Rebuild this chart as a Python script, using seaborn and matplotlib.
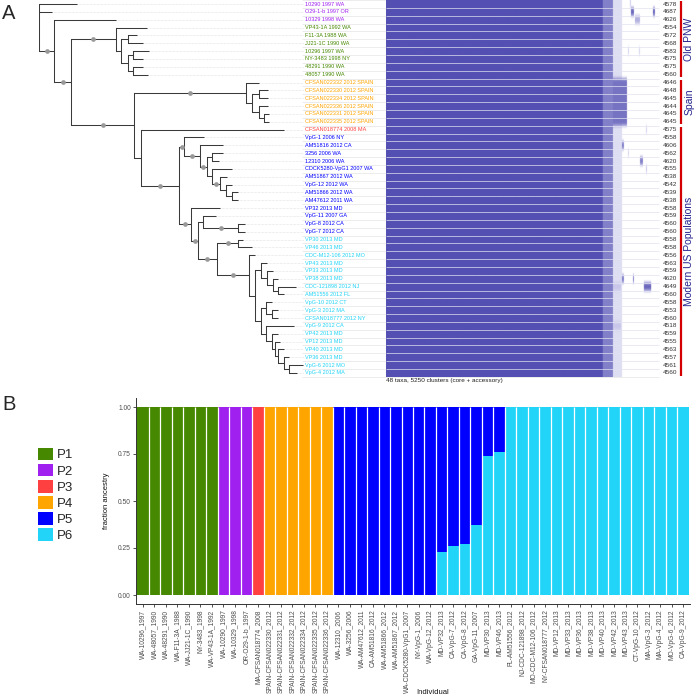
import numpy as np
import pandas as pd
import matplotlib
matplotlib.use("Agg")
import matplotlib.pyplot as plt
from matplotlib.colors import LinearSegmentedColormap
from matplotlib.patches import Patch
import seaborn as sns

# ---------------- data: panel A ----------------
tip_labels = [
    "10290 1997 WA", "O29-1-b 1997 OR", "10329 1998 WA",
    "VP43-1A 1992 WA", "F11-3A 1988 WA", "JJ21-1C 1990 WA", "10296 1997 WA",
    "NY-3483 1998 NY", "48291 1990 WA", "48057 1990 WA",
    "CFSAN022332 2012 SPAIN", "CFSAN022330 2012 SPAIN", "CFSAN022334 2012 SPAIN",
    "CFSAN022336 2012 SPAIN", "CFSAN022331 2012 SPAIN", "CFSAN022335 2012 SPAIN",
    "CFSAN018774 2008 MA",
    "VpG-1 2006 NY", "AM51816 2012 CA", "3256 2006 WA", "12310 2006 WA",
    "CDCK5280-VpG1 2007 WA", "AM51867 2012 WA", "VpG-12 2012 WA", "AM51866 2012 WA",
    "AM47612 2011 WA", "VP32 2013 MD", "VpG-11 2007 GA", "VpG-8 2012 CA", "VpG-7 2012 CA",
    "VP30 2013 MD", "VP46 2013 MD", "CDC-M12-106 2012 MO", "VP43 2013 MD", "VP33 2013 MD",
    "VP38 2013 MD", "CDC-121898 2012 NJ", "AM51556 2012 FL", "VpG-10 2012 CT",
    "VpG-3 2012 MA", "CFSAN018777 2012 NY", "VpG-9 2012 CA", "VP42 2013 MD",
    "VP12 2013 MD", "VP40 2013 MD", "VP36 2013 MD", "VpG-6 2012 MO", "VpG-4 2012 MA",
]
tip_pop = ["P2"] * 3 + ["P1"] * 7 + ["P4"] * 6 + ["P3"] + ["P5"] * 13 + ["P6"] * 18
cluster_counts = [
    4578, 4687, 4626, 4554, 4572, 4568, 4583, 4575, 4575, 4560,
    4646, 4648, 4645, 4644, 4645, 4645, 4575, 4558, 4606, 4562,
    4620, 4555, 4538, 4542, 4539, 4538, 4558, 4559, 4560, 4560,
    4558, 4558, 4556, 4563, 4559, 4620, 4649, 4560, 4558, 4553,
    4560, 4518, 4559, 4555, 4563, 4557, 4561, 4560,
]
# tree with branch lengths; internal nodes named "*" carry a support dot
tree_newick = (
    "(t1:38.0,t2:12.4,(t3:61.4,("
    "(t4:31.6,((t5:9.0,t6:15.6):6.4,((t7:15.7,t8:10.0):5.6,(t9:9.4,t10:15.0):5.6):6.4):5.6)*:44.7,"
    "((t11:13.0,((t12:9.0,t13:9.0):7.0,(t14:9.3,(t15:5.3,t16:5.3):5.3):7.0):6.0)*:111.7,"
    "(t17:143.3,("
    "(t18:19.7,(t19:22.7,((t20:10.4,t21:6.7):5.6,(t22:20.0,(t23:6.7,(t24:6.0,(t25:6.0,t26:6.0):6.0):5.7)*:7.7):5.6)*:6.7)*:15.7)*:5.3,"
    "(t27:29.0,((t28:12.7,(t29:6.7,t30:6.7)*:35.0):5.3,((t31:4.4,t32:13.4)*:21.6,"
    "(t33:6.6,((t34:6.0,(t35:6.0,(t36:5.6,(t37:17.4,t38:6.0):5.6):6.0):6.0):5.4,"
    "((t39:6.6,(t40:6.0,t41:6.0):6.6):4.7,(t42:28.6,(t43:6.0,(t44:5.5,(t45:5.7,(t46:5.3,(t47:14.0,t48:7.4):5.3):5.7):3.3):2.7):6.6):4.7):5.7):6.6)*:32.0"
    ")*:18.7)*:7.0)*:12.0"
    ")*:38.3):6.7)*:63.0)*:16.7)*:15.0);"
)
group_names = ["Old PNW", "Spain", "Modern US Populations"]
group_first = [1, 11, 17]
group_last = [10, 16, 48]

n_clusters = 5250
band_edges = [0, 4170, 4365, 4540]
band_levels = [1.0, 0.8, 0.3]
acc_rows = [1, 2, 2, 3, 7, 7, 11, 12, 13, 14, 15, 16, 17, 19, 20, 21, 22, 36, 36, 37, 37, 42]
acc_start = [4690, 4711, 5134, 4788, 4654, 4865, 4365, 4365, 4365, 4365, 4365, 4365, 5000, 4538, 4654, 4885, 5000, 4538, 4750, 4365, 4960, 4250]
acc_end = [4712, 4769, 5173, 4885, 4673, 4885, 4635, 4635, 4635, 4635, 4635, 4635, 5020, 4577, 4673, 4942, 5020, 4577, 4769, 4520, 5100, 4520]
acc_level = [0.4, 0.9, 0.9, 0.6, 0.4, 0.4, 0.85, 0.85, 0.85, 0.85, 0.85, 0.85, 0.4, 0.8, 0.4, 0.8, 0.5, 0.8, 0.8, 0.5, 0.9, 0.5]

# ---------------- data: panel B ----------------
pop_names = ["P1", "P2", "P3", "P4", "P5", "P6"]
pop_colors = ["#468800", "#a020f0", "#ff4040", "#ffa500", "#0000ff", "#22d4f8"]
individuals = [
    "WA-10296_1997", "WA-48057_1990", "WA-48291_1990", "WA-F11-3A_1988", "WA-JJ21-1C_1990",
    "NY-3483_1998", "WA-VP43-1A_1992",
    "WA-10290_1997", "WA-10329_1998", "OR-O29-1-b_1997",
    "MA-CFSAN018774_2008",
    "SPAIN-CFSAN022330_2012", "SPAIN-CFSAN022331_2012", "SPAIN-CFSAN022332_2012",
    "SPAIN-CFSAN022334_2012", "SPAIN-CFSAN022335_2012", "SPAIN-CFSAN022336_2012",
    "WA-12310_2006", "WA-3256_2006", "WA-AM47612_2011", "CA-AM51816_2012", "WA-AM51866_2012",
    "WA-AM51867_2012", "WA-CDCK5280-VpG1_2007", "NY-VpG-1_2006", "WA-VpG-12_2012",
    "MD-VP32_2013", "CA-VpG-7_2012", "CA-VpG-8_2012", "GA-VpG-11_2007", "MD-VP30_2013", "MD-VP46_2013",
    "FL-AM51556_2012", "NJ-CDC-121898_2012", "MO-CDC-M12-106_2012", "NY-CFSAN018777_2012",
    "MD-VP12_2013", "MD-VP33_2013", "MD-VP36_2013", "MD-VP38_2013", "MD-VP40_2013",
    "MD-VP42_2013", "MD-VP43_2013", "CT-VpG-10_2012", "MA-VpG-3_2012", "MA-VpG-4_2012",
    "MO-VpG-6_2012", "CA-VpG-9_2012",
]
anc_P1 = [1.0] * 7 + [0.0] * 41
anc_P2 = [0.0] * 7 + [1.0] * 3 + [0.0] * 38
anc_P3 = [0.0] * 10 + [1.0] + [0.0] * 37
anc_P4 = [0.0] * 11 + [1.0] * 6 + [0.0] * 31
anc_P5 = [0.0] * 17 + [1.0] * 9 + [0.77, 0.74, 0.73, 0.63, 0.26, 0.24] + [0.0] * 16
anc_P6 = [0.0] * 26 + [0.23, 0.26, 0.27, 0.37, 0.74, 0.76] + [1.0] * 16

# ---------------- setup ----------------
sns.set_theme(style="ticks")
plt.rcParams['font.family'] = ['Liberation Sans', 'DejaVu Sans']

W = H = 696
fig = plt.figure(figsize=(6.96, 6.96), dpi=100)


def rect(x0, y0, x1, y1):
    return [x0 / W, 1 - y1 / H, (x1 - x0) / W, (y1 - y0) / H]


pcol = dict(zip(pop_names, pop_colors))

# row geometry of panel A (row 1 centred at 4 px, 7.85 px per row)
A_TOP, A_BOT = 0.075, 0.075 + 49.5 * 7.85
YLIM = (50, 0.5)


def parse_newick(s):
    pos = 0

    def node():
        nonlocal pos
        children = []
        if s[pos] == '(':
            pos += 1
            while True:
                children.append(node())
                if s[pos] == ',':
                    pos += 1
                    continue
                pos += 1
                break
        st = pos
        while pos < len(s) and s[pos] not in ':,();':
            pos += 1
        name = s[st:pos]
        length = 0.0
        if pos < len(s) and s[pos] == ':':
            pos += 1
            st = pos
            while pos < len(s) and s[pos] not in ',();':
                pos += 1
            length = float(s[st:pos])
        return {'name': name, 'len': length, 'children': children}

    return node()


def layout(n, x0):
    n['x'] = x0 + n['len']
    if n['children']:
        for c in n['children']:
            layout(c, n['x'])
        ys = [c['y'] for c in n['children']]
        n['y'] = (min(ys) + max(ys)) / 2
    else:
        n['y'] = int(n['name'][1:])


tree = parse_newick(tree_newick)
layout(tree, 0.0)

# background axes for panel A annotations (pixel x units)
ax_A = fig.add_axes(rect(0, A_TOP, W, A_BOT))
ax_A.set_xlim(0, W)
ax_A.set_ylim(*YLIM)
ax_A.axis('off')

rows = np.arange(1, 49)
ax_A.hlines(np.arange(0.5, 49, 1.0), 302, 659, color='#e4e4e4', lw=0.5)
for r, lab, p in zip(rows, tip_labels, tip_pop):
    ax_A.text(305, r, lab, color=pcol[p], fontsize=4.0, va='center', ha='left')
for r, c in zip(rows, cluster_counts):
    ax_A.text(677.5, r, str(c), color='#333333', fontsize=4.6, va='center', ha='right')
for g, a, b in zip(group_names, group_first, group_last):
    ax_A.vlines(681, a - 0.5 + 0.15, b + 0.5 - 0.15, color='#d20000', lw=1.6)
    ax_A.text(689.5, (a + b) / 2, g, rotation=90, ha='center', va='center',
              fontsize=7.5, color='#24248e')
ax_A.text(386, 48.9, "48 taxa, 5250 clusters (core + accessory)", fontsize=4.6,
          va='center', ha='left', color='#222222')

# tree axes
TREE_X0, TREE_X1 = 39.3, 304.0
ax_tree = fig.add_axes(rect(TREE_X0, A_TOP, TREE_X1, A_BOT))
ax_tree.set_xlim(0, TREE_X1 - TREE_X0)
ax_tree.set_ylim(*YLIM)
ax_tree.axis('off')
ax_tree.patch.set_alpha(0)
xmax = TREE_X1 - TREE_X0
LC = '#3a3a3a'


def draw(n):
    if not n['children']:
        ax_tree.plot([n['x'], xmax], [n['y'], n['y']], color='#c9c9c9', lw=0.4,
                     ls=(0, (1, 1.5)), zorder=1)
        return
    ys = [c['y'] for c in n['children']]
    ax_tree.plot([n['x'], n['x']], [min(ys), max(ys)], color=LC, lw=0.75,
                 solid_capstyle='projecting', zorder=2)
    for c in n['children']:
        ax_tree.plot([n['x'], c['x']], [c['y'], c['y']], color=LC, lw=0.75,
                     solid_capstyle='butt', zorder=2)
        if c['name'] == '*':
            ax_tree.plot((n['x'] + c['x']) / 2, c['y'], 'o', ms=3.4, color='#999999',
                         mec='none', zorder=3)
        draw(c)


draw(tree)

# heatmap of cluster presence
M = np.zeros((48, n_clusters))
for a, b, v in zip(band_edges[:-1], band_edges[1:], band_levels):
    M[:, a:b] = v
for r, a, b, v in zip(acc_rows, acc_start, acc_end, acc_level):
    M[r - 1, a:b] = np.maximum(M[r - 1, a:b], v)
cmap = LinearSegmentedColormap.from_list("pa", ["#ffffff", "#c9c8ea", "#5450b3"])
ax_heat = fig.add_axes(rect(386, A_TOP, 659, A_BOT))
ax_heat.imshow(M, aspect='auto', cmap=cmap, vmin=0, vmax=1, interpolation='antialiased',
               extent=(0, n_clusters, 48.5, 0.5))
ax_heat.hlines(np.arange(1.5, 48, 1.0), 0, n_clusters, color='#e2e2f2', lw=0.5)
ax_heat.set_xlim(0, n_clusters)
ax_heat.set_ylim(*YLIM)
ax_heat.axis('off')

# ---------------- panel B ----------------
anc = [anc_P1, anc_P2, anc_P3, anc_P4, anc_P5, anc_P6]
recs = []
for i, ind in enumerate(individuals):
    cum = 0.0
    for p, arr in zip(pop_names[::-1], anc[::-1]):
        v = arr[i]
        if v > 0:
            cum += v
            recs.append(dict(individual=ind, pop=p, top=min(cum, 1.0)))
df = pd.DataFrame(recs)

ax_B = fig.add_axes(rect(136, 397.6, 690, 604.4))
sns.barplot(data=df, x='individual', y='top', hue='pop', order=individuals,
            hue_order=pop_names, palette=pcol, dodge=False, width=1.0, errorbar=None,
            saturation=1, edgecolor='none', linewidth=0, legend=False, ax=ax_B)
# thin white separators between the stacked bars
ax_B.vlines(np.arange(0.5, len(individuals) - 1, 1.0), 0, 1, color='white', lw=0.9, zorder=5)
ax_B.set_xlim(-0.6, 47.6)
ax_B.set_ylim(-0.05, 1.05)
ax_B.set_yticks([0, 0.25, 0.5, 0.75, 1.0])
ax_B.set_yticklabels(["0.00", "0.25", "0.50", "0.75", "1.00"])
ax_B.tick_params(axis='both', length=2.2, width=0.6, color='#333333', pad=1.5,
                 labelsize=4.8, labelcolor='#4d4d4d')
ax_B.tick_params(axis='x', labelrotation=90)
sns.despine(ax=ax_B)
for s in ['left', 'bottom']:
    ax_B.spines[s].set_color('#333333')
    ax_B.spines[s].set_linewidth(0.7)
ax_B.set_xlabel('')
ax_B.set_ylabel('fraction ancestry', fontsize=5.5, color='#111111')
ax_B.yaxis.set_label_coords((110 - 136) / (690 - 136), 0.5)
fig.text(433 / W, 1 - 692 / H, 'Individual', fontsize=5.5, ha='center', va='center',
         color='#111111')

handles = [Patch(facecolor=c, edgecolor='none') for c in pop_colors]
fig.legend(handles, pop_names, loc='upper left', bbox_to_anchor=(38 / W, 1 - 447.5 / H),
           frameon=False, fontsize=9.5, handlelength=1.1, handleheight=1.1,
           handletextpad=0.3, labelspacing=0.18, borderpad=0, borderaxespad=0)

fig.text(9 / W, 1 - 13.5 / H, 'A', fontsize=14.5, ha='center', va='center')
fig.text(9 / W, 1 - 404 / H, 'B', fontsize=14.5, ha='center', va='center')

fig.savefig('out.png', dpi=100)
